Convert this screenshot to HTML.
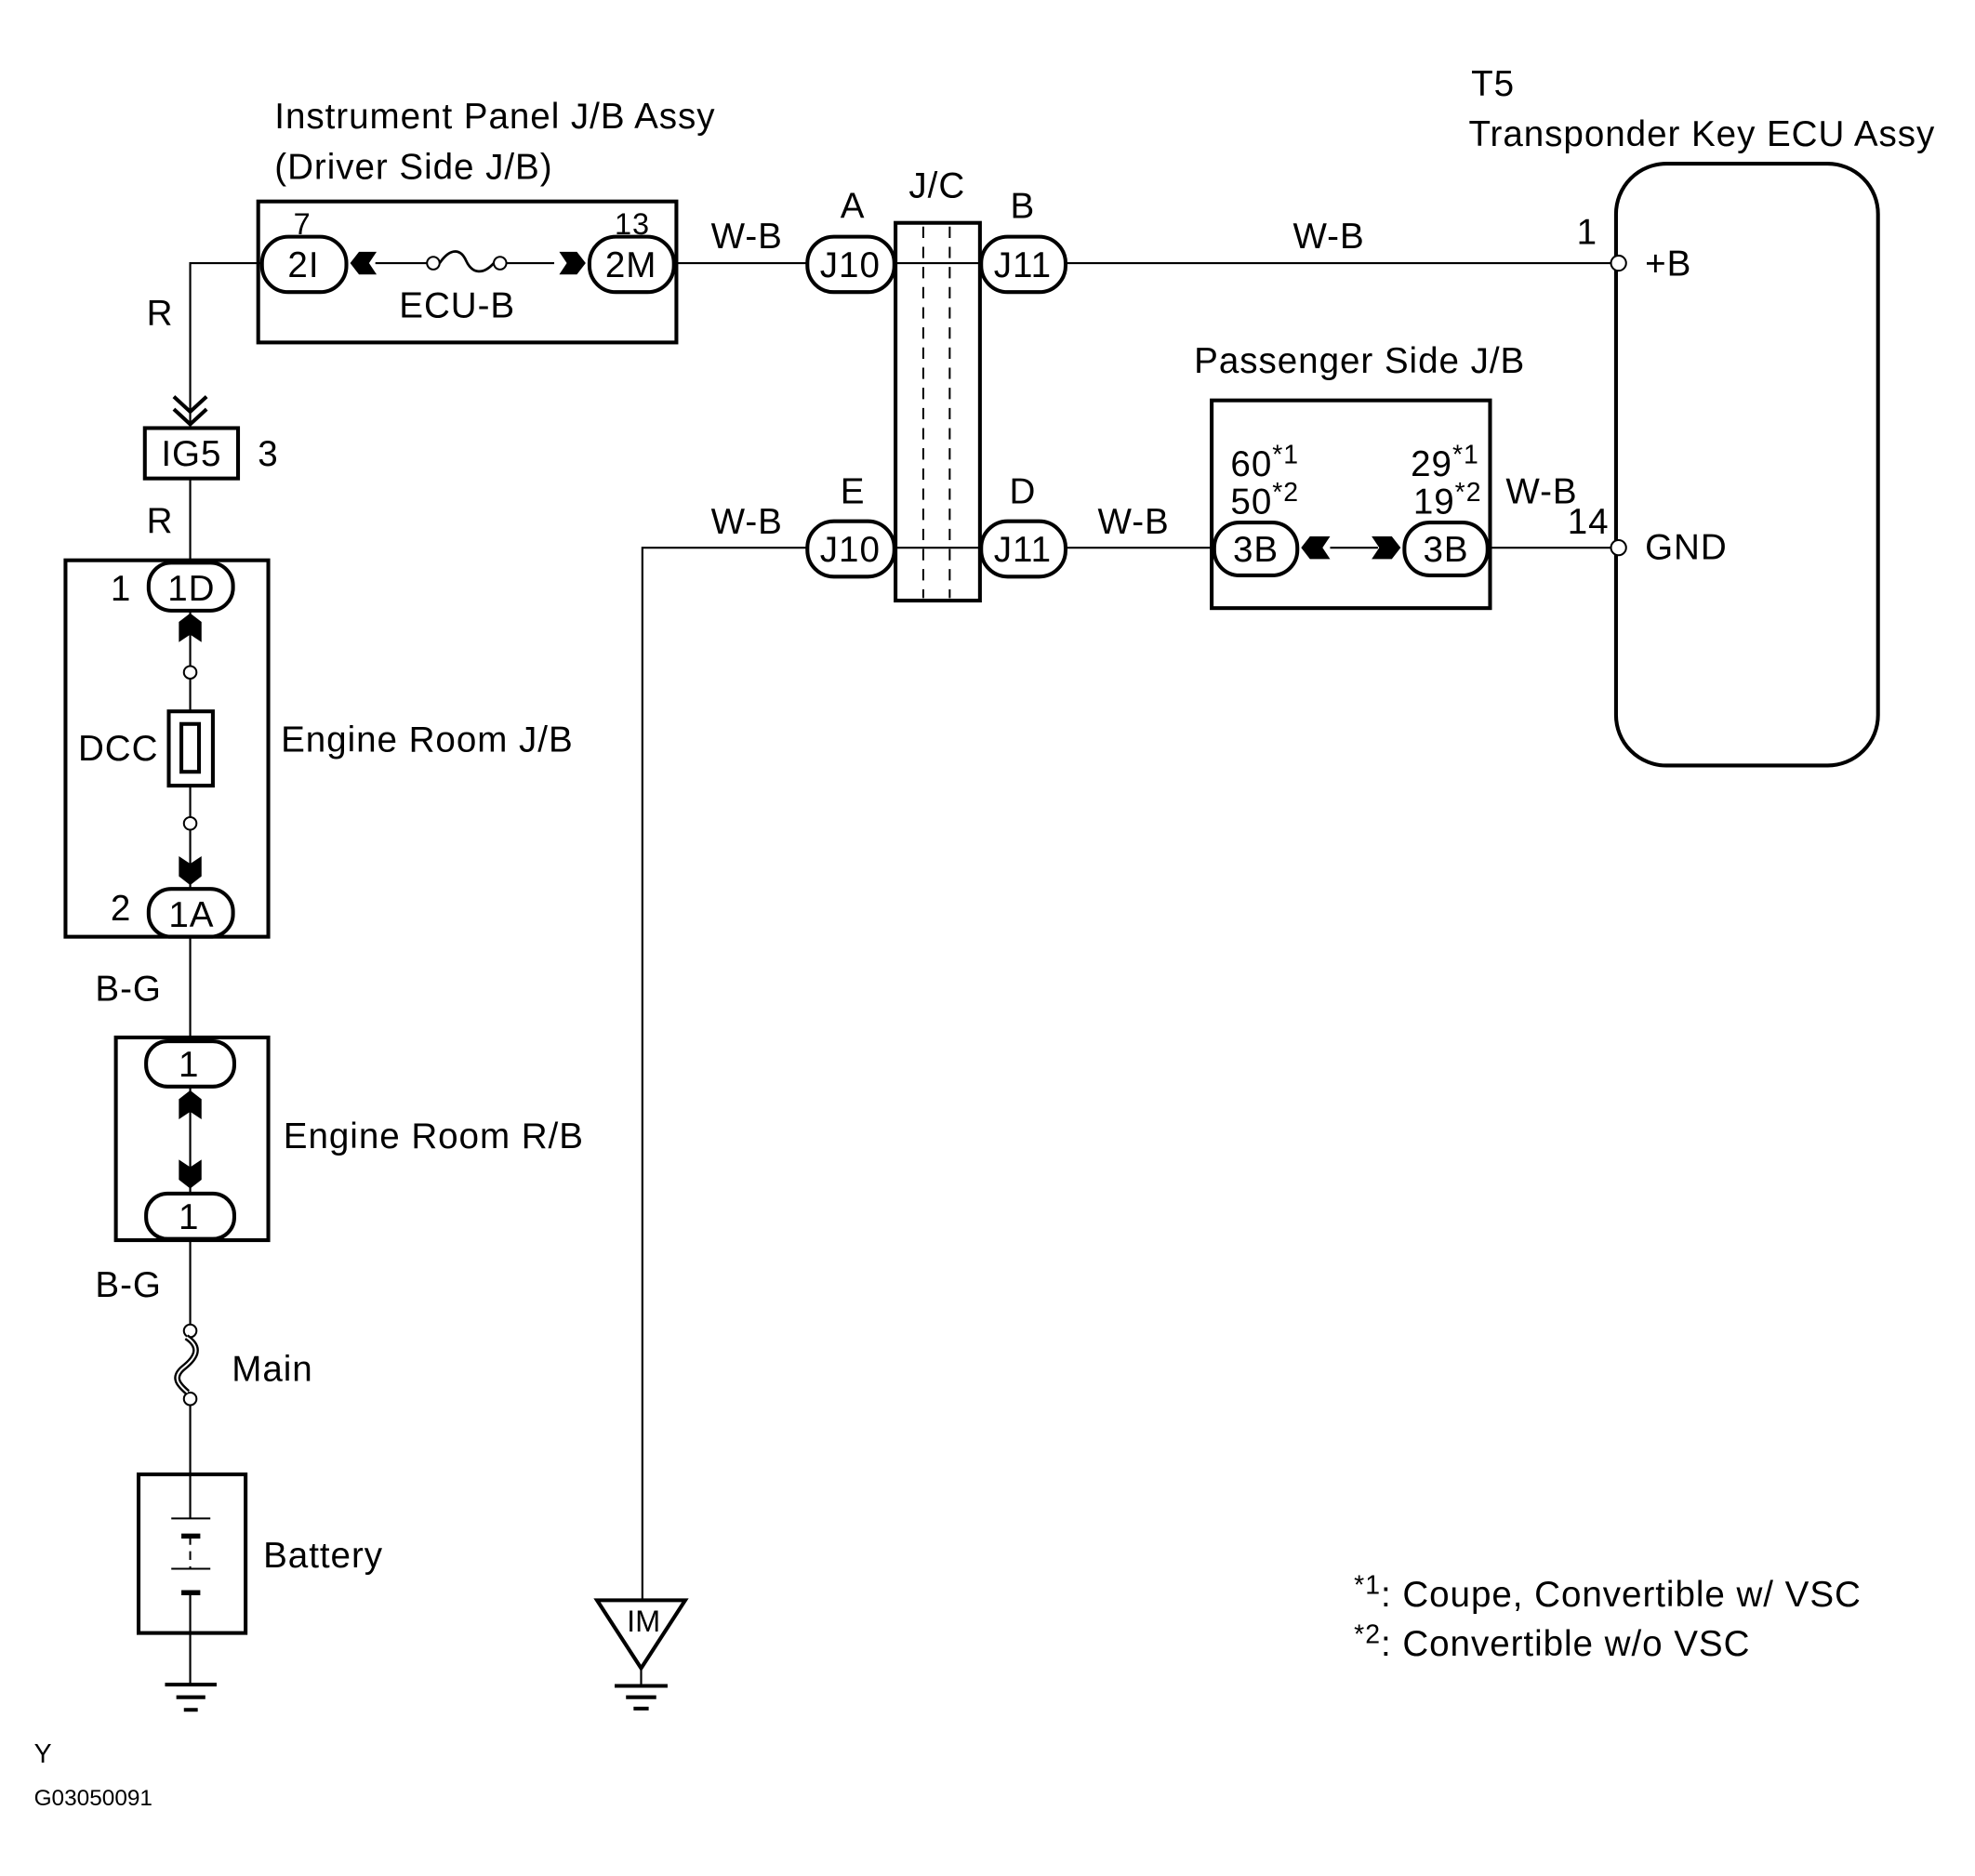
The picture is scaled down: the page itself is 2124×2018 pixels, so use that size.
<!DOCTYPE html>
<html><head><meta charset="utf-8"><style>
html,body{margin:0;padding:0;background:#fff;}
svg{display:block;}
text{font-family:"Liberation Sans",Arial,sans-serif;fill:#000;}
</style></head><body>
<svg width="2124" height="2018" viewBox="0 0 1568 1490" preserveAspectRatio="none" xmlns="http://www.w3.org/2000/svg">
<g fill="none" stroke="#000">
<g stroke-width="1.6">
<path d="M151,340 V209 H208"/>
<path d="M537,209 H641"/>
<path d="M710,209 H779"/>
<path d="M846,209 H1280"/>
<path d="M298,209 H339 M402,209 H440"/>
<path d="M151,380 V446"/>
<path d="M151,486 V529 M151,539 V565 M151,624 V649 M151,659 V706"/>
<path d="M151,744 V826 M151,864 V947 M151,985 V1052 M151,1116 V1171"/>
<path d="M151,1171 V1206 M151,1266 V1297 V1338"/>
<path d="M510,1270 V435 H641"/>
<path d="M710,435 H779"/>
<path d="M846,435 H964"/>
<path d="M1056,435 H1094"/>
<path d="M1181,435 H1280"/>
<path d="M509,1325 V1338"/>
</g>
<g stroke-width="3">
<rect x="205" y="160" width="332" height="112"/>
<rect x="711" y="177" width="67" height="300"/>
<rect x="962" y="318" width="221" height="165"/>
<rect x="1283" y="130" width="208" height="478" rx="40"/>
<rect x="115" y="340" width="74" height="40"/>
<rect x="52" y="445" width="161" height="299"/>
<rect x="92" y="824" width="121" height="161"/>
<rect x="110" y="1171" width="85" height="126"/>
<rect x="208" y="188" width="67" height="44" rx="21"/>
<rect x="468" y="188" width="67" height="44" rx="21"/>
<rect x="641" y="188" width="69" height="44" rx="21"/>
<rect x="779" y="188" width="67" height="44" rx="21"/>
<rect x="641" y="414" width="69" height="44" rx="21"/>
<rect x="779" y="414" width="67" height="44" rx="21"/>
<rect x="964" y="415" width="66" height="42" rx="20"/>
<rect x="1115" y="415" width="66" height="42" rx="20"/>
<rect x="118" y="447" width="67" height="38" rx="18"/>
<rect x="118" y="706" width="67" height="38" rx="18"/>
<rect x="116" y="827" width="70" height="36" rx="17"/>
<rect x="116" y="948" width="70" height="36" rx="17"/>
<path d="M474,1271 H544 L509,1325 Z"/>
<rect x="134" y="565" width="35" height="59"/>
</g>
<rect x="144" y="575" width="14" height="38" stroke-width="3"/>
<path d="M733,180 V475 M754,180 V475" stroke-width="1.5" stroke-dasharray="9,7"/>
<circle cx="344" cy="209" r="5" stroke-width="1.5"/>
<circle cx="397" cy="209" r="5" stroke-width="1.5"/>
<path d="M349,209 C358,196 366,198 370,207 C375,218 384,218 392,209" stroke-width="2"/>
<circle cx="151" cy="534" r="5" stroke-width="1.5"/>
<circle cx="151" cy="654" r="5" stroke-width="1.5"/>
<circle cx="151" cy="1057" r="5" stroke-width="1.5"/>
<circle cx="151" cy="1111" r="5" stroke-width="1.5"/>
<path d="M148,1062 C160,1070 156,1078 146,1086 C136,1094 142,1100 149,1106" stroke-width="5"/>
<path d="M148,1062 C160,1070 156,1078 146,1086 C136,1094 142,1100 149,1106" stroke="#fff" stroke-width="1.5"/>
<path d="M136,1206 H167 M136,1246 H167" stroke-width="1.5"/>
<path d="M144,1220 H159 M144,1265 H159" stroke-width="4"/>
<path d="M151,1220 V1246" stroke-width="1.5" stroke-dasharray="7,5"/>
<path d="M131,1338 H172 M140,1348 H163 M146,1358 H157" stroke-width="3"/>
<path d="M488,1339 H530 M497,1348 H521 M503,1357 H515" stroke-width="3"/>
<path d="M138,315 L151,327 L164,315 M138,325 L151,337 L164,325" stroke-width="3"/>
<circle cx="1285" cy="209" r="6" fill="#fff" stroke-width="1.5"/>
<circle cx="1285" cy="435" r="6" fill="#fff" stroke-width="1.5"/>
</g>
<g fill="#000">
<polygon points="278,209 285,200 299,200 293,209 299,218 285,218"/>
<polygon points="465,209 458,200 444,200 450,209 444,218 458,218"/>
<polygon points="1033,435 1040,426 1056,426 1050,435 1056,444 1040,444"/>
<polygon points="1112,435 1105,426 1089,426 1095,435 1089,444 1105,444"/>
<polygon points="151,487 142,494 142,510 151,504 160,510 160,494"/>
<polygon points="151,703 142,696 142,680 151,686 160,680 160,696"/>
<polygon points="151,866 142,873 142,889 151,883 160,889 160,873"/>
<polygon points="151,944 142,937 142,921 151,927 160,921 160,937"/>
</g>
<g font-size="28.5" letter-spacing="0.7">
<text x="218" y="102">Instrument Panel J/B Assy</text>
<text x="218" y="142">(Driver Side J/B)</text>
<text x="240" y="186" font-size="24" text-anchor="middle">7</text>
<text x="502" y="186" font-size="24" text-anchor="middle">13</text>
<text x="241" y="220" text-anchor="middle">2I</text>
<text x="501" y="220" text-anchor="middle">2M</text>
<text x="363" y="252" text-anchor="middle">ECU-B</text>
<text x="593" y="197" text-anchor="middle">W-B</text>
<text x="677" y="173" text-anchor="middle">A</text>
<text x="744" y="157" text-anchor="middle">J/C</text>
<text x="812" y="173" text-anchor="middle">B</text>
<text x="675" y="220" text-anchor="middle">J10</text>
<text x="812" y="220" text-anchor="middle">J11</text>
<text x="1055" y="197" text-anchor="middle">W-B</text>
<text x="1260" y="194" text-anchor="middle">1</text>
<text x="1306" y="219">+B</text>
<text x="1168" y="76">T5</text>
<text x="1166" y="116">Transponder Key ECU Assy</text>
<text x="948" y="296">Passenger Side J/B</text>
<text x="593" y="424" text-anchor="middle">W-B</text>
<text x="677" y="400" text-anchor="middle">E</text>
<text x="812" y="400" text-anchor="middle">D</text>
<text x="675" y="446" text-anchor="middle">J10</text>
<text x="812" y="446" text-anchor="middle">J11</text>
<text x="900" y="424" text-anchor="middle">W-B</text>
<text x="977" y="378">60<tspan font-size="21" dy="-10">*1</tspan></text>
<text x="977" y="408">50<tspan font-size="21" dy="-10">*2</tspan></text>
<text x="1120" y="378">29<tspan font-size="21" dy="-10">*1</tspan></text>
<text x="1122" y="408">19<tspan font-size="21" dy="-10">*2</tspan></text>
<text x="997" y="446" text-anchor="middle">3B</text>
<text x="1148" y="446" text-anchor="middle">3B</text>
<text x="1224" y="400" text-anchor="middle">W-B</text>
<text x="1261" y="424" text-anchor="middle">14</text>
<text x="1306" y="444">GND</text>
<text x="127" y="258" text-anchor="middle">R</text>
<text x="152" y="370" text-anchor="middle">IG5</text>
<text x="213" y="370" text-anchor="middle">3</text>
<text x="127" y="423" text-anchor="middle">R</text>
<text x="96" y="477" text-anchor="middle">1</text>
<text x="152" y="477" text-anchor="middle">1D</text>
<text x="62" y="604">DCC</text>
<text x="223" y="597">Engine Room J/B</text>
<text x="96" y="731" text-anchor="middle">2</text>
<text x="152" y="736" text-anchor="middle">1A</text>
<text x="102" y="795" text-anchor="middle">B-G</text>
<text x="150" y="855" text-anchor="middle">1</text>
<text x="225" y="912">Engine Room R/B</text>
<text x="150" y="976" text-anchor="middle">1</text>
<text x="102" y="1030" text-anchor="middle">B-G</text>
<text x="184" y="1097">Main</text>
<text x="209" y="1245">Battery</text>
<text x="511" y="1296" text-anchor="middle" font-size="24" letter-spacing="0">IM</text>
<text x="1075" y="1276"><tspan font-size="21" dy="-10">*1</tspan><tspan dy="10">: Coupe, Convertible w/ VSC</tspan></text>
<text x="1075" y="1315"><tspan font-size="21" dy="-10">*2</tspan><tspan dy="10">: Convertible w/o VSC</tspan></text>
<text x="27" y="1400" font-size="21">Y</text>
<text x="27" y="1434" font-size="18" letter-spacing="0">G03050091</text>
</g>
</svg>
</body></html>
